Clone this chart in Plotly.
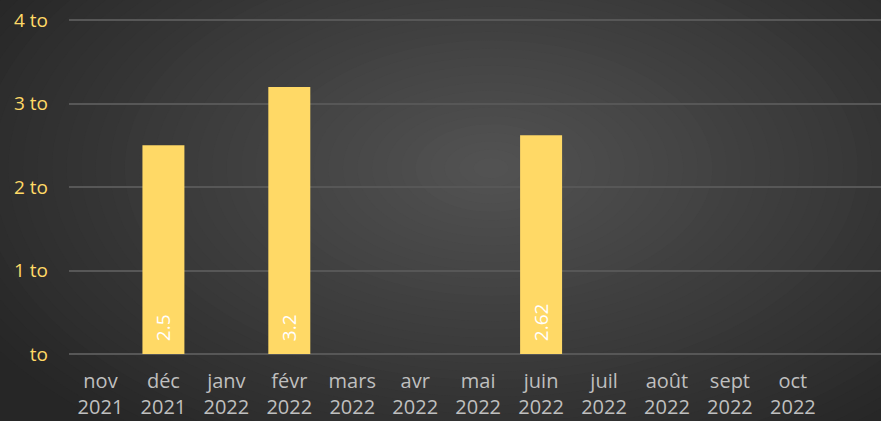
import plotly.graph_objects as go

months = ["nov", "déc", "janv", "févr", "mars", "avr", "mai", "juin", "juil", "août", "sept", "oct"]
years = ["2021", "2021", "2022", "2022", "2022", "2022", "2022", "2022", "2022", "2022", "2022", "2022"]
values = [None, 2.5, None, 3.2, None, None, None, 2.62, None, None, None, None]
labels = ["", "2.5", "", "3.2", "", "", "", "2.62", "", "", "", ""]
y_ticks = [0, 1, 2, 3, 4]
y_ticktext = [" to", "1 to", "2 to", "3 to", "4 to"]

cats = [f"{m}<br>{y}" for m, y in zip(months, years)]
FONT = "Open Sans"

fig = go.Figure()
fig.add_trace(go.Bar(
    x=cats, y=values, text=labels,
    texttemplate="\u00a0\u00a0%{text}",
    marker=dict(color="#FFD966", line=dict(width=0)),
    width=0.667,
    textposition="inside", insidetextanchor="start", textangle=-90,
    textfont=dict(color="#FFFFFF", size=19, family=FONT),
    cliponaxis=False,
))

# radial-like gradient background via concentric ellipses
shapes = []
n = 40
c0, c1 = 0x27, 0x52
for i in range(n):
    t = i / (n - 1)
    r = 1.0 - 0.97 * t
    c = int(round(c0 + (c1 - c0) * t))
    col = f"rgb({c},{c},{c})"
    cx, cy = 0.52, 0.55
    rx, ry = 0.72 * r, 1.0 * r
    shapes.append(dict(type="circle", xref="paper", yref="paper",
                       x0=cx - rx, x1=cx + rx, y0=cy - ry, y1=cy + ry,
                       fillcolor=col, line=dict(width=0), layer="below"))

fig.update_layout(
    width=881, height=421,
    margin=dict(l=69, r=0, t=16, b=67),
    paper_bgcolor="#262626", plot_bgcolor="rgba(0,0,0,0)",
    showlegend=False, shapes=shapes,
    font=dict(family=FONT),
)
fig.update_xaxes(
    range=[-0.5, 12.4], showgrid=False, showline=False, zeroline=False,
    tickfont=dict(color="#BFBFBF", size=20, family=FONT),
    ticks="", ticklabelstandoff=13,
)
fig.update_yaxes(
    range=[0, 4.05], tickvals=y_ticks, ticktext=y_ticktext,
    showgrid=True, gridcolor="#575757", gridwidth=1.5,
    zeroline=True, zerolinecolor="#575757", zerolinewidth=1.5,
    showline=False, ticks="",
    tickfont=dict(color="#FFD966", size=19, family=FONT),
    ticklabelstandoff=20,
)
fig.write_html("out.html", config={"displayModeBar": False})
with open("out.html", encoding="utf-8") as f:
    html = f.read()
html = html.replace("<head>", "<head><style>html,body{margin:0;padding:0;overflow:hidden;}</style>", 1)
with open("out.html", "w", encoding="utf-8") as f:
    f.write(html)
